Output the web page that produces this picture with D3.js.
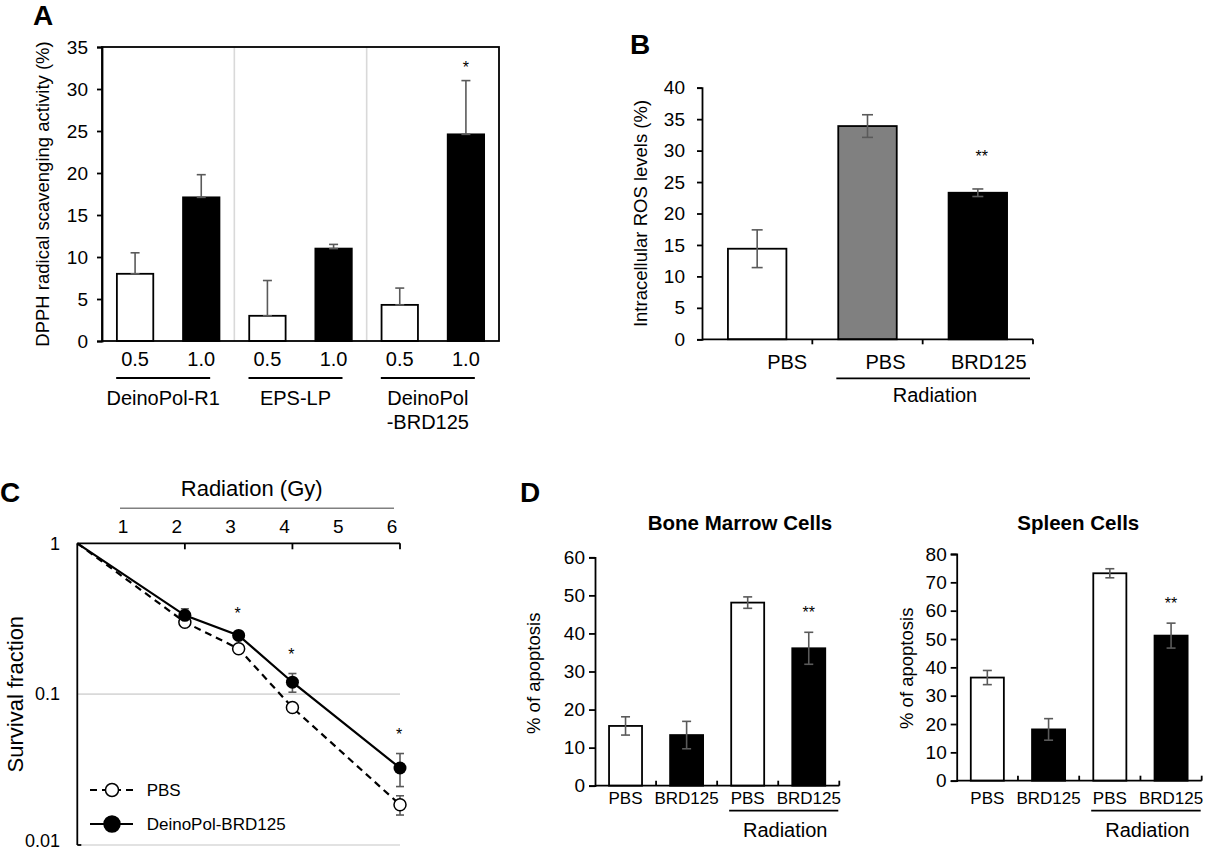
<!DOCTYPE html>
<html>
<head>
<meta charset="utf-8">
<script src="https://cdn.jsdelivr.net/npm/d3@7"></script>
<style>
  body { margin: 0; background: #fff; }
  svg { font-family: 'Liberation Sans', Arial, sans-serif; }
</style>
</head>
<body>
<div id="chart"></div>
<script>
// panel A - DPPH scavenging
const dpphGroups = ['DeinoPol-R1', 'EPS-LP', 'DeinoPol\n-BRD125']
const dpphDoses = ['0.5', '1.0', '0.5', '1.0', '0.5', '1.0']
const dpphValues = [8.0, 17.1, 3.0, 11.0, 4.3, 24.6]
const dpphErrors = [2.5, 2.7, 4.2, 0.5, 2.0, 6.4]
const dpphStars = ['', '', '', '', '', '*']
const dpphTicks = [0, 5, 10, 15, 20, 25, 30, 35]

// panel B - intracellular ROS
const rosLabels = ['PBS', 'PBS', 'BRD125']
const rosValues = [14.4, 33.9, 23.3]
const rosErrors = [3.0, 1.8, 0.6]
const rosStars = ['', '', '**']
const rosTicks = [0, 5, 10, 15, 20, 25, 30, 35, 40]

// panel C - survival
const doses = [0, 2, 3, 4, 6]
const pbsSurvival = [1, 0.30, 0.20, 0.0815, 0.0185]
const pbsErrors = [0, 0.008, 0.005, 0.003, 0.0027]
const brdSurvival = [1, 0.333, 0.245, 0.12, 0.0324]
const brdErrors = [0, 0.035, 0.008, 0.017, 0.008]
const survivalStars = ['', '', '*', '*', '*']
const doseTicks = [1, 2, 3, 4, 5, 6]
const survivalTicks = [1, 0.1, 0.01]

// panel D - apoptosis
const apoLabels = ['PBS', 'BRD125', 'PBS', 'BRD125']
const apoFills = ['#fff', '#000', '#fff', '#000']
const boneValues = [15.7, 13.3, 48.1, 36.1]
const boneErrors = [2.4, 3.6, 1.5, 4.2]
const boneTicks = [0, 10, 20, 30, 40, 50, 60]
const spleenValues = [36.4, 18.1, 73.2, 51.2]
const spleenErrors = [2.5, 3.8, 1.6, 4.4]
const spleenTicks = [0, 10, 20, 30, 40, 50, 60, 70, 80]
const apoStars = ['', '', '', '**']

const errColor = '#5a5a5a'

const svg = d3.select('#chart').append('svg')
  .attr('width', 1205)
  .attr('height', 852)

// draws a vertical error bar with caps
function errorBar (g, x, yTop, yBottom, capW) {
  g.append('line')
    .attr('x1', x).attr('x2', x)
    .attr('y1', yTop).attr('y2', yBottom)
    .attr('stroke', errColor).attr('stroke-width', 1.6)
  g.append('line')
    .attr('x1', x - capW / 2).attr('x2', x + capW / 2)
    .attr('y1', yTop).attr('y2', yTop)
    .attr('stroke', errColor).attr('stroke-width', 1.6)
  if (yBottom !== null) {
    g.append('line')
      .attr('x1', x - capW / 2).attr('x2', x + capW / 2)
      .attr('y1', yBottom).attr('y2', yBottom)
      .attr('stroke', errColor).attr('stroke-width', 1.6)
  }
}

function panelLetter (txt, x, y) {
  svg.append('text')
    .attr('x', x).attr('y', y)
    .attr('font-size', 28)
    .attr('font-weight', 'bold')
    .text(txt)
}

function styleAxis (g, size) {
  g.selectAll('text').attr('font-size', size).attr('fill', '#000')
    .attr('font-family', "'Liberation Sans', Arial, sans-serif")
  g.selectAll('line').attr('stroke', '#000').attr('stroke-width', 1.8)
  g.select('.domain').attr('stroke', '#000').attr('stroke-width', 1.8)
}

// ---------- A ----------
function drawA () {
  const g = svg.append('g')
  const x = d3.scaleBand().domain(d3.range(dpphValues.length)).range([102, 499])
  const y = d3.scaleLinear().domain([0, 35]).range([341, 47])
  const bw = x.bandwidth()

  // separators between groups
  ;[2, 4].forEach(i => {
    g.append('line')
      .attr('x1', x(i)).attr('x2', x(i))
      .attr('y1', y(35)).attr('y2', y(0))
      .attr('stroke', '#d9d9d9').attr('stroke-width', 1.6)
  })

  g.selectAll('rect.bar')
    .data(dpphValues)
    .enter()
    .append('rect')
    .attr('class', 'bar')
    .attr('x', (d, i) => x(i) + bw * 0.225)
    .attr('width', bw * 0.55)
    .attr('y', d => y(d))
    .attr('height', d => y(0) - y(d))
    .attr('fill', (d, i) => i % 2 === 0 ? '#fff' : '#000')
    .attr('stroke', '#000')
    .attr('stroke-width', 1.8)

  dpphValues.forEach((v, i) => {
    errorBar(g, x(i) + bw / 2, y(v + dpphErrors[i]), y(v), 9)
    if (dpphStars[i]) {
      g.append('text')
        .attr('x', x(i) + bw / 2).attr('y', y(v + dpphErrors[i]) - 8)
        .attr('text-anchor', 'middle').attr('font-size', 16)
        .text(dpphStars[i])
    }
  })

  // box
  g.append('rect')
    .attr('x', 102).attr('y', y(35))
    .attr('width', 397).attr('height', y(0) - y(35))
    .attr('fill', 'none').attr('stroke', '#000').attr('stroke-width', 1.8)

  const yAxis = g.append('g')
    .attr('transform', 'translate(102,0)')
    .call(d3.axisLeft(y).tickValues(dpphTicks).tickSize(5).tickPadding(9))
  styleAxis(yAxis, 19)

  g.selectAll('text.dose')
    .data(dpphDoses)
    .enter()
    .append('text')
    .attr('class', 'dose')
    .attr('x', (d, i) => x(i) + bw / 2)
    .attr('y', 366)
    .attr('text-anchor', 'middle')
    .attr('font-size', 20)
    .text(d => d)

  dpphGroups.forEach((name, k) => {
    const cx = x(2 * k) + bw - 5
    g.append('line')
      .attr('x1', cx - 47).attr('x2', cx + 47)
      .attr('y1', 378).attr('y2', 378)
      .attr('stroke', '#000').attr('stroke-width', 1.8)
    const t = g.append('text')
      .attr('x', cx).attr('y', 405)
      .attr('text-anchor', 'middle')
      .attr('font-size', 20)
    name.split('\n').forEach((line, j) => {
      t.append('tspan').attr('x', cx).attr('dy', j === 0 ? 0 : 24).text(line)
    })
  })

  g.append('text')
    .attr('transform', `translate(49,${(y(0) + y(35)) / 2}) rotate(-90)`)
    .attr('text-anchor', 'middle')
    .attr('font-size', 18.5)
    .text('DPPH radical scavenging activity (%)')

  panelLetter('A', 33, 25)
}

// ---------- B ----------
function drawB () {
  const g = svg.append('g')
  const x = d3.scaleBand().domain(d3.range(rosValues.length)).range([702, 1033])
  const y = d3.scaleLinear().domain([0, 40]).range([339.3, 87.7])
  const bw = x.bandwidth()
  const fills = ['#fff', '#808080', '#000']

  g.selectAll('rect.bar')
    .data(rosValues)
    .enter()
    .append('rect')
    .attr('class', 'bar')
    .attr('x', (d, i) => x(i) + bw * 0.235)
    .attr('width', bw * 0.53)
    .attr('y', d => y(d))
    .attr('height', d => y(0) - y(d))
    .attr('fill', (d, i) => fills[i])
    .attr('stroke', '#000')
    .attr('stroke-width', 1.8)

  rosValues.forEach((v, i) => {
    errorBar(g, x(i) + bw / 2, y(v + rosErrors[i]), y(v - rosErrors[i]), 11)
    if (rosStars[i]) {
      g.append('text')
        .attr('x', x(i) + bw / 2 + 4).attr('y', y(v + rosErrors[i]) - 27)
        .attr('text-anchor', 'middle').attr('font-size', 16)
        .text(rosStars[i])
    }
  })

  const yAxis = g.append('g')
    .attr('transform', 'translate(702,0)')
    .call(d3.axisLeft(y).tickValues(rosTicks).tickSize(5).tickPadding(12))
  styleAxis(yAxis, 19)

  // category axis with ticks at band edges
  g.append('line')
    .attr('x1', 702).attr('x2', 1033)
    .attr('y1', y(0)).attr('y2', y(0))
    .attr('stroke', '#000').attr('stroke-width', 1.8)
  ;[1, 2, 3].forEach(i => {
    const xx = i < 3 ? x(i) : 1033
    g.append('line')
      .attr('x1', xx).attr('x2', xx)
      .attr('y1', y(0)).attr('y2', y(0) + 5)
      .attr('stroke', '#000').attr('stroke-width', 1.8)
  })

  const shift = [30, 18, 11]
  rosLabels.forEach((lab, i) => {
    g.append('text')
      .attr('x', x(i) + bw / 2 + shift[i]).attr('y', 369)
      .attr('text-anchor', 'middle').attr('font-size', 20)
      .text(lab)
  })

  g.append('line')
    .attr('x1', x(1) + 24).attr('x2', 1030)
    .attr('y1', 378.3).attr('y2', 378.3)
    .attr('stroke', '#000').attr('stroke-width', 1.8)
  g.append('text')
    .attr('x', 935).attr('y', 402)
    .attr('text-anchor', 'middle').attr('font-size', 20)
    .text('Radiation')

  g.append('text')
    .attr('transform', `translate(647,${(y(0) + y(40)) / 2}) rotate(-90)`)
    .attr('text-anchor', 'middle')
    .attr('font-size', 18.5)
    .text('Intracellular ROS levels (%)')

  panelLetter('B', 630, 54)
}

// ---------- C ----------
function drawC () {
  const g = svg.append('g')
  const x = d3.scaleLinear().domain([0, 6]).range([77.3, 400])
  const y = d3.scaleLog().domain([0.01, 1]).range([845, 543.3])

  // gridlines
  ;[0.1, 0.01].forEach(v => {
    g.append('line')
      .attr('x1', x(0)).attr('x2', x(6))
      .attr('y1', y(v)).attr('y2', y(v))
      .attr('stroke', '#d9d9d9').attr('stroke-width', 1.6)
  })

  // axes
  g.append('line')
    .attr('x1', x(0)).attr('x2', x(6))
    .attr('y1', y(1)).attr('y2', y(1))
    .attr('stroke', '#000').attr('stroke-width', 1.8)
  ;[2, 4, 6].forEach(d => {
    g.append('line')
      .attr('x1', x(d)).attr('x2', x(d))
      .attr('y1', y(1)).attr('y2', y(1) + 6)
      .attr('stroke', '#000').attr('stroke-width', 1.8)
  })
  g.append('line')
    .attr('x1', x(0)).attr('x2', x(0))
    .attr('y1', y(1)).attr('y2', y(0.01))
    .attr('stroke', '#000').attr('stroke-width', 1.8)
  g.append('line')
    .attr('x1', x(0)).attr('x2', x(0) + 4)
    .attr('y1', y(0.01)).attr('y2', y(0.01))
    .attr('stroke', '#000').attr('stroke-width', 1.8)

  g.selectAll('text.ytick')
    .data(survivalTicks)
    .enter()
    .append('text')
    .attr('class', 'ytick')
    .attr('x', 60)
    .attr('y', d => Math.min(y(d), 841))
    .attr('dy', '0.35em')
    .attr('text-anchor', 'end')
    .attr('font-size', 18)
    .text(d => d)

  g.selectAll('text.xtick')
    .data(doseTicks)
    .enter()
    .append('text')
    .attr('class', 'xtick')
    .attr('x', d => x(d) - 8)
    .attr('y', 526.7)
    .attr('dy', '0.35em')
    .attr('text-anchor', 'middle')
    .attr('font-size', 19)
    .text(d => d)

  g.append('line')
    .attr('x1', 120).attr('x2', 394)
    .attr('y1', 508.3).attr('y2', 508.3)
    .attr('stroke', '#808080').attr('stroke-width', 1.6)
  g.append('text')
    .attr('x', 251.7).attr('y', 488.3)
    .attr('dy', '0.35em')
    .attr('text-anchor', 'middle').attr('font-size', 22)
    .text('Radiation (Gy)')

  const line = d3.line()
    .x(d => x(d[0]))
    .y(d => y(d[1]))

  g.append('path')
    .datum(doses.map((d, i) => [d, pbsSurvival[i]]))
    .attr('d', line)
    .attr('fill', 'none')
    .attr('stroke', '#000')
    .attr('stroke-width', 2.2)
    .attr('stroke-dasharray', '7,5')
  g.append('path')
    .datum(doses.map((d, i) => [d, brdSurvival[i]]))
    .attr('d', line)
    .attr('fill', 'none')
    .attr('stroke', '#000')
    .attr('stroke-width', 2.2)

  doses.forEach((d, i) => {
    if (pbsErrors[i] > 0) {
      errorBar(g, x(d), y(pbsSurvival[i] + pbsErrors[i]), y(pbsSurvival[i] - pbsErrors[i]), 8)
    }
    if (brdErrors[i] > 0) {
      errorBar(g, x(d), y(brdSurvival[i] + brdErrors[i]), y(brdSurvival[i] - brdErrors[i]), 8)
    }
  })

  g.selectAll('circle.pbs')
    .data(doses.slice(1))
    .enter()
    .append('circle')
    .attr('class', 'pbs')
    .attr('cx', d => x(d))
    .attr('cy', (d, i) => y(pbsSurvival[i + 1]))
    .attr('r', 6)
    .attr('fill', '#fff')
    .attr('stroke', '#000')
    .attr('stroke-width', 1.5)
  g.selectAll('circle.brd')
    .data(doses.slice(1))
    .enter()
    .append('circle')
    .attr('class', 'brd')
    .attr('cx', d => x(d))
    .attr('cy', (d, i) => y(brdSurvival[i + 1]))
    .attr('r', 6.5)
    .attr('fill', '#000')

  doses.forEach((d, i) => {
    if (survivalStars[i]) {
      g.append('text')
        .attr('x', x(d) - 1).attr('y', y(brdSurvival[i] + brdErrors[i]) - 14)
        .attr('text-anchor', 'middle').attr('font-size', 16)
        .text(survivalStars[i])
    }
  })

  // legend
  const leg = [
    { name: 'PBS', y: 790, dash: '7,5', fill: '#fff', r: 6.5 },
    { name: 'DeinoPol-BRD125', y: 824, dash: null, fill: '#000', r: 8 }
  ]
  leg.forEach(l => {
    g.append('line')
      .attr('x1', 90).attr('x2', 133)
      .attr('y1', l.y).attr('y2', l.y)
      .attr('stroke', '#000').attr('stroke-width', 2.2)
      .attr('stroke-dasharray', l.dash)
    g.append('circle')
      .attr('cx', 112).attr('cy', l.y).attr('r', l.r)
      .attr('fill', l.fill).attr('stroke', '#000').attr('stroke-width', 1.5)
    g.append('text')
      .attr('x', 146.7).attr('y', l.y)
      .attr('dy', '0.35em')
      .attr('font-size', 17)
      .text(l.name)
  })

  g.append('text')
    .attr('transform', `translate(23,${y(0.1)}) rotate(-90)`)
    .attr('text-anchor', 'middle')
    .attr('font-size', 22)
    .text('Survival fraction')

  panelLetter('C', 0, 502)
}

// ---------- D ----------
function drawApoptosis (o) {
  const g = svg.append('g')
  const x = d3.scaleBand().domain(d3.range(o.values.length)).range([o.left, o.right])
  const y = d3.scaleLinear().domain([0, o.max]).range([o.bottom, o.top])
  const bw = x.bandwidth()

  g.selectAll('rect.bar')
    .data(o.values)
    .enter()
    .append('rect')
    .attr('class', 'bar')
    .attr('x', (d, i) => x(i) + bw * 0.23)
    .attr('width', bw * 0.54)
    .attr('y', d => y(d))
    .attr('height', d => y(0) - y(d))
    .attr('fill', (d, i) => apoFills[i])
    .attr('stroke', '#000')
    .attr('stroke-width', 1.8)

  o.values.forEach((v, i) => {
    errorBar(g, x(i) + bw / 2, y(v + o.errors[i]), y(v - o.errors[i]), 9)
    if (apoStars[i]) {
      g.append('text')
        .attr('x', x(i) + bw / 2).attr('y', y(v + o.errors[i]) - 14)
        .attr('text-anchor', 'middle').attr('font-size', 16)
        .text(apoStars[i])
    }
  })

  const yAxis = g.append('g')
    .attr('transform', `translate(${o.left},0)`)
    .call(d3.axisLeft(y).tickValues(o.ticks).tickSize(6).tickPadding(4))
  styleAxis(yAxis, 19)

  g.append('line')
    .attr('x1', o.left).attr('x2', o.right)
    .attr('y1', y(0)).attr('y2', y(0))
    .attr('stroke', '#000').attr('stroke-width', 1.8)
  ;[1, 2, 3, 4].forEach(i => {
    const xx = i < 4 ? x(i) : o.right
    g.append('line')
      .attr('x1', xx).attr('x2', xx)
      .attr('y1', y(0)).attr('y2', y(0) - 5)
      .attr('stroke', '#000').attr('stroke-width', 1.8)
  })

  g.selectAll('text.cat')
    .data(apoLabels)
    .enter()
    .append('text')
    .attr('class', 'cat')
    .attr('x', (d, i) => x(i) + bw / 2)
    .attr('y', 798.3)
    .attr('dy', '0.35em')
    .attr('text-anchor', 'middle')
    .attr('font-size', 17)
    .text(d => d)

  g.append('line')
    .attr('x1', x(2) + 12).attr('x2', o.right - 1)
    .attr('y1', 810.7).attr('y2', 810.7)
    .attr('stroke', '#000').attr('stroke-width', 1.8)
  g.append('text')
    .attr('x', (x(2) + o.right) / 2 + 7).attr('y', 830)
    .attr('dy', '0.35em')
    .attr('text-anchor', 'middle').attr('font-size', 20)
    .text('Radiation')

  g.append('text')
    .attr('x', o.titleX).attr('y', 523.3)
    .attr('dy', '0.35em')
    .attr('text-anchor', 'middle')
    .attr('font-size', 20.5)
    .attr('font-weight', 'bold')
    .text(o.title)

  g.append('text')
    .attr('transform', `translate(${o.yTitleX},${o.yTitleY}) rotate(-90)`)
    .attr('dy', '0.35em')
    .attr('text-anchor', 'middle')
    .attr('font-size', 18.5)
    .text('% of apoptosis')
}

drawA()
drawB()
drawC()
drawApoptosis({
  values: boneValues,
  errors: boneErrors,
  ticks: boneTicks,
  max: 60,
  left: 595,
  right: 839.3,
  bottom: 785.7,
  top: 557.3,
  title: 'Bone Marrow Cells',
  titleX: 740,
  yTitleX: 533.3,
  yTitleY: 673.3
})
drawApoptosis({
  values: spleenValues,
  errors: spleenErrors,
  ticks: spleenTicks,
  max: 80,
  left: 956.7,
  right: 1201.7,
  bottom: 780.7,
  top: 554,
  title: 'Spleen Cells',
  titleX: 1078.3,
  yTitleX: 906.7,
  yTitleY: 668.3
})
panelLetter('D', 520, 502)
</script>
</body>
</html>
